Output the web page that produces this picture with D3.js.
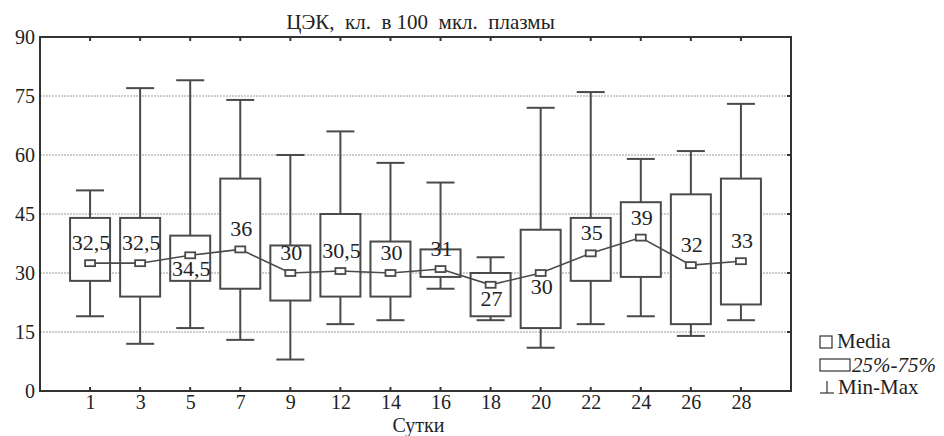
<!DOCTYPE html>
<html><head><meta charset="utf-8">
<script src="https://cdn.jsdelivr.net/npm/d3@7"></script>
<style>
html,body{margin:0;padding:0;background:#fff;}
</style></head>
<body><svg id="chart" width="944" height="436"></svg>
<script>
const days = ["1","3","5","7","9","12","14","16","18","20","22","24","26","28"];
const mins = [19,12,16,13,8,17,18,26,18,11,17,19,14,18];
const q1s = [28,24,28,26,23,24,24,29,19,16,28,29,17,22];
const medians = [32.5,32.5,34.5,36,30,30.5,30,31,27,30,35,39,32,33];
const q3s = [44,44,39.5,54,37,45,38,36,30,41,44,48,50,54];
const maxs = [51,77,79,74,60,66,58,53,34,72,76,59,61,73];
const medianLabels = ["32,5","32,5","34,5","36","30","30,5","30","31","27","30","35","39","32","33"];
const labelSide = ["above","above","below","above","above","above","above","above","below","below","above","above","above","above"];
const yTicks = [0,15,30,45,60,75,90];
const title = "ЦЭК,  кл.  в 100  мкл.  плазмы";
const xTitle = "Сутки";
const legendItems = ["Media","25%-75%","Min-Max"];

const FONT = "Liberation Serif, Times New Roman, serif";
const svg = d3.select("#chart");
const L=40, R=791, T=37, B=391;
const x = d3.scalePoint().domain(days).range([L,R]).padding(1);
const y = d3.scaleLinear().domain([0,90]).range([B,T]);
const ink = "#4a4a4a";
const data = days.map((d,i)=>({d,min:mins[i],q1:q1s[i],med:medians[i],q3:q3s[i],max:maxs[i],lab:medianLabels[i],side:labelSide[i]}));

// gridlines
svg.append("g").selectAll("line").data(yTicks.filter(t=>t>0&&t<90)).join("line")
  .attr("x1",L).attr("x2",R).attr("y1",d=>y(d)).attr("y2",d=>y(d))
  .attr("stroke","#9a9a9a").attr("stroke-width",1).attr("stroke-dasharray","2,1");

// axes
const axL = svg.append("g").attr("transform",`translate(${L},0)`)
  .call(d3.axisLeft(y).tickValues(yTicks).tickSize(0).tickPadding(5));
axL.attr("font-family",FONT).attr("font-size",20);
axL.select(".domain").remove();
axL.selectAll("text").attr("fill","#222");

const axB = svg.append("g").attr("transform",`translate(0,${B})`)
  .call(d3.axisBottom(x).tickSize(0).tickPadding(4));
axB.attr("font-family",FONT).attr("font-size",20);
axB.select(".domain").remove();
axB.selectAll("text").attr("fill","#222");

// inner ticks
svg.append("g").selectAll("line").data(days).join("line")
  .attr("x1",d=>x(d)).attr("x2",d=>x(d)).attr("y1",T).attr("y2",T+4)
  .attr("stroke","#333").attr("stroke-width",2);
svg.append("g").selectAll("line").data(days).join("line")
  .attr("x1",d=>x(d)).attr("x2",d=>x(d)).attr("y1",B).attr("y2",B-4)
  .attr("stroke","#333").attr("stroke-width",2);
svg.append("g").selectAll("line").data(yTicks.filter(t=>t>0&&t<90)).join("line")
  .attr("x1",R).attr("x2",R-4).attr("y1",d=>y(d)).attr("y2",d=>y(d))
  .attr("stroke","#333").attr("stroke-width",2);

// whiskers
const bw = 40, cw = 28;
const g = svg.append("g");
g.selectAll("line.w").data(data).join("line").attr("class","w")
  .attr("x1",d=>x(d.d)).attr("x2",d=>x(d.d)).attr("y1",d=>y(d.min)).attr("y2",d=>y(d.max))
  .attr("stroke",ink).attr("stroke-width",2);
g.selectAll("line.cmax").data(data).join("line").attr("class","cmax")
  .attr("x1",d=>x(d.d)-cw/2).attr("x2",d=>x(d.d)+cw/2).attr("y1",d=>y(d.max)).attr("y2",d=>y(d.max))
  .attr("stroke",ink).attr("stroke-width",2);
g.selectAll("line.cmin").data(data).join("line").attr("class","cmin")
  .attr("x1",d=>x(d.d)-cw/2).attr("x2",d=>x(d.d)+cw/2).attr("y1",d=>y(d.min)).attr("y2",d=>y(d.min))
  .attr("stroke",ink).attr("stroke-width",2);
g.selectAll("rect.box").data(data).join("rect").attr("class","box")
  .attr("x",d=>x(d.d)-bw/2).attr("width",bw).attr("y",d=>y(d.q3)).attr("height",d=>y(d.q1)-y(d.q3))
  .attr("fill","#fff").attr("stroke",ink).attr("stroke-width",2);

// median line
svg.append("path").datum(data)
  .attr("d",d3.line().x(d=>x(d.d)).y(d=>y(d.med)))
  .attr("fill","none").attr("stroke",ink).attr("stroke-width",1.6);
svg.append("g").selectAll("rect").data(data).join("rect")
  .attr("x",d=>x(d.d)-5).attr("y",d=>y(d.med)-3).attr("width",10).attr("height",6)
  .attr("fill","#fff").attr("stroke",ink).attr("stroke-width",1.8);

// labels
svg.append("g").attr("font-family",FONT).attr("font-size",22).attr("fill","#222")
  .selectAll("text").data(data).join("text")
  .attr("x",d=>x(d.d)+1).attr("y",d=>y(d.med)+(d.side==="above"?-13:21))
  .attr("text-anchor","middle").text(d=>d.lab);

// frame
svg.append("rect").attr("x",L).attr("y",T).attr("width",R-L).attr("height",B-T)
  .attr("fill","none").attr("stroke","#333").attr("stroke-width",2);

// titles
const tg = svg.append("g").attr("font-family",FONT).attr("fill","#222");
tg.append("text").attr("x",(L+R)/2+5).attr("y",29).attr("text-anchor","middle")
  .attr("font-size",21).style("white-space","pre").text(title);
tg.append("text").attr("x",(L+R)/2+3).attr("y",432).attr("text-anchor","middle")
  .attr("font-size",20).text(xTitle);

// legend
const lg = svg.append("g").attr("font-family",FONT).attr("fill","#222").attr("font-size",21);
lg.append("rect").attr("x",820).attr("y",336).attr("width",12).attr("height",12)
  .attr("fill","#fff").attr("stroke","#333").attr("stroke-width",1.2);
lg.append("text").attr("x",837).attr("y",348).text(legendItems[0]);
lg.append("rect").attr("x",820).attr("y",359).attr("width",30).attr("height",12)
  .attr("fill","#fff").attr("stroke","#333").attr("stroke-width",1.2);
lg.append("text").attr("x",852).attr("y",372).attr("font-style","italic").text(legendItems[1]);
lg.append("line").attr("x1",827).attr("x2",827).attr("y1",381).attr("y2",393).attr("stroke","#333").attr("stroke-width",1.2);
lg.append("line").attr("x1",820).attr("x2",834).attr("y1",393).attr("y2",393).attr("stroke","#333").attr("stroke-width",1.2);
lg.append("text").attr("x",838).attr("y",394).text(legendItems[2]);
</script></body></html>
